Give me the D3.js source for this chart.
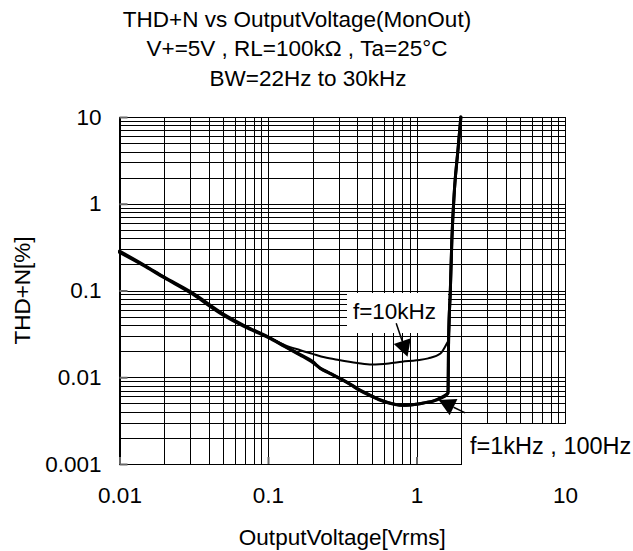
<!DOCTYPE html>
<html><head><meta charset="utf-8">
<script src="https://cdn.jsdelivr.net/npm/d3@7"></script>
<style>
html,body{margin:0;padding:0;background:#fff;}
svg{display:block;}
text{font-family:"Liberation Sans",Arial,sans-serif;fill:#000;}
</style></head><body>
<svg id="chart" width="633" height="551"></svg>
<script>
// ---------- data ----------
const titleLines = ["THD+N vs OutputVoltage(MonOut)", "V+=5V , RL=100kΩ , Ta=25°C", "BW=22Hz to 30kHz"];
const xTitle = "OutputVoltage[Vrms]";
const yTitle = "THD+N[%]";
const xTickValues = [0.01, 0.1, 1, 10];
const xTickLabels = ["0.01", "0.1", "1", "10"];
const yTickValues = [0.001, 0.01, 0.1, 1, 10];
const yTickLabels = ["0.001", "0.01", "0.1", "1", "10"];

const seriesNames = ["f=10kHz", "f=1kHz", "f=100Hz"];
const volt10k = [0.01, 0.015, 0.02, 0.03, 0.05, 0.07, 0.1, 0.13, 0.165, 0.2, 0.24, 0.3, 0.4, 0.5, 0.65, 0.8, 1.0, 1.2, 1.45, 1.6, 1.645, 1.69, 1.73, 1.8, 1.9, 1.99];
const thd10k  = [0.28, 0.19, 0.142, 0.096, 0.053, 0.039, 0.0292, 0.0235, 0.0205, 0.0186, 0.0170, 0.0158, 0.0146, 0.0140, 0.0144, 0.0151, 0.0157, 0.0165, 0.0188, 0.0245, 0.027, 0.1, 0.38, 1.43, 4.1, 10];
const volt1k  = [0.01, 0.015, 0.02, 0.03, 0.05, 0.07, 0.1, 0.13, 0.165, 0.2, 0.224, 0.26, 0.306, 0.36, 0.417, 0.49, 0.56, 0.65, 0.8, 0.9, 1.0, 1.15, 1.3, 1.45, 1.6, 1.63, 1.645, 1.69, 1.73, 1.8, 1.9, 1.99];
const thd1k   = [0.275, 0.188, 0.14, 0.094, 0.052, 0.038, 0.0288, 0.0225, 0.018, 0.0148, 0.0128, 0.0112, 0.0097, 0.0083, 0.0071, 0.0062, 0.00555, 0.0051, 0.00477, 0.0048, 0.0049, 0.0051, 0.00535, 0.0058, 0.0064, 0.0066, 0.027, 0.1, 0.38, 1.43, 4.1, 10];
const volt100 = [0.01, 0.015, 0.02, 0.03, 0.05, 0.07, 0.1, 0.13, 0.165, 0.2, 0.224, 0.26, 0.306, 0.36, 0.417, 0.49, 0.56, 0.65, 0.8, 0.9, 1.0, 1.15, 1.3, 1.45, 1.6, 1.63, 1.645, 1.69, 1.73, 1.8, 1.9, 1.99];
const thd100  = [0.285, 0.192, 0.143, 0.097, 0.0535, 0.039, 0.0293, 0.0228, 0.0183, 0.0152, 0.0127, 0.0111, 0.0096, 0.0082, 0.0070, 0.0061, 0.0055, 0.00505, 0.00475, 0.00478, 0.00488, 0.0051, 0.0053, 0.0057, 0.0063, 0.0066, 0.027, 0.1, 0.38, 1.43, 4.1, 10];

const annoLabels = ["f=10kHz", "f=1kHz , 100Hz"];
const arrowFromV = [0.73, 2.13];
const arrowFromT = [0.042, 0.00389];
const arrowToV   = [0.87, 1.41];
const arrowToT   = [0.0172, 0.00545];

// ---------- layout ----------
const L = 119.5, R = 565, T = 117, B = 464;
const FS = 22.5;
const svg = d3.select("#chart");

const x = d3.scaleLog().domain([0.01, 10]).range([L, R]);
const y = d3.scaleLog().domain([0.001, 10]).range([B, T]);

// grid
const gx = svg.append("g").attr("transform", `translate(0,${B})`)
  .call(d3.axisBottom(x).tickValues(x.ticks()).tickSize(-(B - T)).tickFormat(""));
gx.select(".domain").remove();
gx.selectAll("line").attr("stroke", "#000").attr("stroke-width", 1).attr("shape-rendering", "crispEdges");
const gy = svg.append("g").attr("transform", `translate(${L},0)`)
  .call(d3.axisLeft(y).tickValues(y.ticks()).tickSize(-(R - L)).tickFormat(""));
gy.select(".domain").remove();
gy.selectAll("line").attr("stroke", "#000").attr("stroke-width", 1).attr("shape-rendering", "crispEdges");

// frame
svg.append("rect").attr("x", L).attr("y", T).attr("width", R - L).attr("height", B - T)
  .attr("fill", "none").attr("stroke", "#000").attr("stroke-width", 1).attr("shape-rendering", "crispEdges");

// major axes with inward ticks and labels
const ax = svg.append("g").attr("transform", `translate(0,${B})`)
  .call(d3.axisBottom(x).tickValues(xTickValues).tickSize(-7).tickPadding(23.5)
    .tickFormat((d, i) => xTickLabels[i]));
ax.select(".domain").remove();
ax.selectAll("line").attr("stroke", "#666").attr("stroke-width", 2);
ax.selectAll("text").attr("font-size", FS).attr("font-family", "Liberation Sans, Arial, sans-serif").attr("fill", "#000");

const ay = svg.append("g").attr("transform", `translate(${L},0)`)
  .call(d3.axisLeft(y).tickValues(yTickValues).tickSize(-8).tickPadding(18)
    .tickFormat((d, i) => yTickLabels[i]));
ay.select(".domain").remove();
ay.selectAll("line").attr("stroke", "#666").attr("stroke-width", 2);
ay.selectAll("text").attr("font-size", FS).attr("font-family", "Liberation Sans, Arial, sans-serif").attr("fill", "#000");

// label backgrounds
svg.append("rect").attr("x", 347).attr("y", 293).attr("width", 101).attr("height", 40).attr("fill", "#fff");
svg.append("rect").attr("x", 462).attr("y", 424).attr("width", 180).attr("height", 46).attr("fill", "#fff");

// curves
const line = d3.line().x(d => x(d[0])).y(d => y(d[1])).curve(d3.curveMonotoneX);
const series = [
  {v: volt100, t: thd100, w: 3},
  {v: volt1k, t: thd1k, w: 3},
  {v: volt10k, t: thd10k, w: 2}
];
series.forEach(s => {
  svg.append("path").datum(s.v.map((v, i) => [v, s.t[i]]))
    .attr("d", line).attr("fill", "none").attr("stroke", "#000")
    .attr("stroke-width", s.w).attr("stroke-linejoin", "round").attr("stroke-linecap", "round");
});

// annotation texts
svg.append("text").attr("x", 394.5).attr("y", 318.5).attr("text-anchor", "middle")
  .attr("font-size", FS).text(annoLabels[0]);
svg.append("text").attr("x", 470).attr("y", 453.5).attr("text-anchor", "start")
  .attr("font-size", 23.5).text(annoLabels[1]);

// arrows
const headLen = 16.5, headHalf = 9;
annoLabels.forEach((lab, i) => {
  const x0 = x(arrowFromV[i]), y0 = y(arrowFromT[i]);
  const x1 = x(arrowToV[i]), y1 = y(arrowToT[i]);
  const dx = x1 - x0, dy = y1 - y0, len = Math.hypot(dx, dy);
  const ux = dx / len, uy = dy / len;
  const bx = x1 - ux * headLen, by = y1 - uy * headLen;
  svg.append("line").attr("x1", x0).attr("y1", y0).attr("x2", bx).attr("y2", by)
    .attr("stroke", "#000").attr("stroke-width", 1.5);
  svg.append("path")
    .attr("d", `M${x1},${y1}L${bx - uy * headHalf},${by + ux * headHalf}L${bx + uy * headHalf},${by - ux * headHalf}Z`)
    .attr("fill", "#000");
});

// titles
const titleX = [297, 297, 308];
const titleY = [27, 56, 86];
titleLines.forEach((t, i) => {
  svg.append("text").attr("x", titleX[i]).attr("y", titleY[i]).attr("text-anchor", "middle")
    .attr("font-size", FS).text(t);
});
svg.append("text").attr("x", (L + R) / 2).attr("y", 545).attr("text-anchor", "middle")
  .attr("font-size", FS).text(xTitle);
svg.append("text").attr("transform", `translate(30,${(T + B) / 2}) rotate(-90)`).attr("text-anchor", "middle")
  .attr("font-size", FS).text(yTitle);
</script>
</body></html>
